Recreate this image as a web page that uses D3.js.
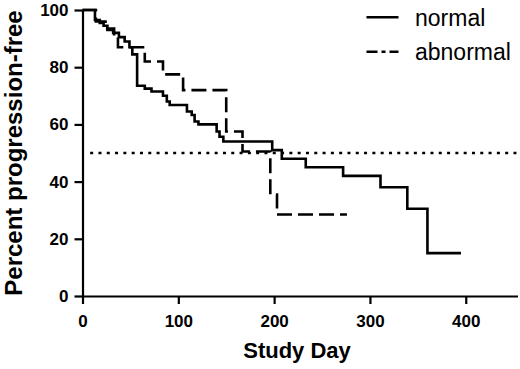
<!DOCTYPE html>
<html>
<head>
<meta charset="utf-8">
<script src="https://cdn.jsdelivr.net/npm/d3@7"></script>
<style>
  body { margin: 0; background: #fff; }
  text { fill: #000; }
</style>
</head>
<body>
<svg id="chart" width="520" height="369"></svg>
<script>
// Kaplan-Meier style steps
var normalDay = [0, 13, 18, 22, 26, 32, 38, 44, 49, 52, 57, 65, 72, 84, 88, 91, 109, 114, 117, 121, 140, 143, 147, 198, 208, 233, 272, 311, 339, 360, 395]
var normalPct = [100, 96.5, 95.5, 94.5, 93, 92, 90.5, 89, 87, 84.5, 73.5, 72.5, 71.5, 70, 68, 66.8, 64.5, 63.3, 61, 60, 57.5, 55.7, 54, 51, 48, 45, 42, 38, 30.5, 15, 15]

var abnormalDay = [0, 14, 24, 33, 37, 65, 84, 105, 150, 167, 196, 203, 276]
var abnormalPct = [100, 96, 93.5, 91, 87, 82, 77.5, 72, 57.5, 50.5, 35.5, 28.5, 28.5]

var xTicks = [0, 100, 200, 300, 400]
var yTicks = [0, 20, 40, 60, 80, 100]
var medianLine = 50
var seriesNames = ['normal', 'abnormal']

var svg = d3.select('#chart')

var x = d3.scaleLinear().domain([0, 454]).range([82.5, 517.5])
var y = d3.scaleLinear().domain([0, 100]).range([296, 10])

// axes
var yAxis = svg.append('g')
    .attr('transform', 'translate(82.5,0)')
    .call(d3.axisLeft(y).tickValues(yTicks).tickSize(8).tickSizeOuter(0).tickPadding(6))
var xAxis = svg.append('g')
    .attr('transform', 'translate(0,296)')
    .call(d3.axisBottom(x).tickValues(xTicks).tickSize(8).tickSizeOuter(0).tickPadding(11))

svg.selectAll('.domain, .tick line').attr('stroke', '#000').attr('stroke-width', 2.2)
svg.selectAll('.tick text')
    .attr('font-family', 'Liberation Sans, Arial, sans-serif')
    .attr('font-weight', 'bold')
    .attr('font-size', 17)
    .attr('fill', '#000')

// axis titles
svg.append('text')
    .attr('x', 297).attr('y', 358)
    .attr('text-anchor', 'middle')
    .attr('font-family', 'Liberation Sans, Arial, sans-serif')
    .attr('font-weight', 'bold')
    .attr('font-size', 22)
    .text('Study Day')

svg.append('text')
    .attr('transform', 'translate(21.5,153) rotate(-90)')
    .attr('text-anchor', 'middle')
    .attr('font-family', 'Liberation Sans, Arial, sans-serif')
    .attr('font-weight', 'bold')
    .attr('font-size', 24)
    .text('Percent progression-free')

// 50% reference
svg.append('line')
    .attr('x1', x(8)).attr('x2', x(454))
    .attr('y1', y(medianLine)).attr('y2', y(medianLine))
    .attr('stroke', '#000')
    .attr('stroke-width', 2.5)
    .attr('stroke-dasharray', '3,5.3')

var line = d3.line()
    .x(function (d) { return x(d[0]) })
    .y(function (d) { return y(d[1]) })
    .curve(d3.curveStepAfter)

var normal = normalDay.map(function (d, i) { return [d, normalPct[i]] })
var abnormal = abnormalDay.map(function (d, i) { return [d, abnormalPct[i]] })

svg.append('path')
    .attr('d', line(abnormal))
    .attr('fill', 'none')
    .attr('stroke', '#000')
    .attr('stroke-width', 2.6)
    .attr('stroke-dasharray', '15,6')

svg.append('path')
    .attr('d', line(normal))
    .attr('fill', 'none')
    .attr('stroke', '#000')
    .attr('stroke-width', 2.6)

// legend
var dashes = [null, '11,4,4,4']
var legendY = [17.3, 51.7]
seriesNames.forEach(function (name, i) {
  svg.append('line')
      .attr('x1', 366.5).attr('x2', 398.5)
      .attr('y1', legendY[i]).attr('y2', legendY[i])
      .attr('stroke', '#000')
      .attr('stroke-width', 2.6)
      .attr('stroke-dasharray', dashes[i])
  svg.append('text')
      .attr('x', 415).attr('y', legendY[i] + 8.5)
      .attr('font-family', 'Liberation Sans, Arial, sans-serif')
      .attr('font-size', 23)
      .text(name)
})
</script>
</body>
</html>
